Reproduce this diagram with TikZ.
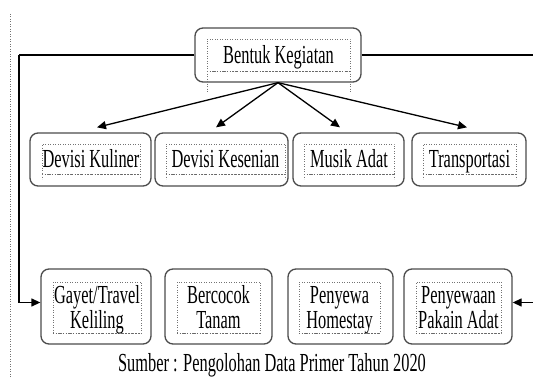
\documentclass[tikz,border=0pt]{standalone}
\usepackage{fontspec}
\newfontfamily\diagfont[FakeStretch=0.63]{Liberation Serif}
\usetikzlibrary{calc}
\usetikzlibrary{arrows.meta}
\newcommand{\diagtextsize}{\fontsize{26}{25}\selectfont}
\tikzstyle{outerbox}=[draw=black!70,line width=1.3pt,rounded corners=8pt,inner sep=0pt]
\tikzstyle{innerbox}=[draw=black!55,dotted,line width=0.5pt,inner sep=0pt,font=\diagfont\diagtextsize,text height=17pt,text depth=0pt]
\tikzstyle{twoline}=[text height=42pt,text depth=0pt,align=center]
\tikzstyle{dotbase}=[draw=black!60,dotted,line width=1.3pt]
\tikzstyle{dotside}=[draw=black!55,dotted,line width=0.5pt]
\tikzstyle{plainedge}=[draw=black,line width=1.3pt]
\tikzstyle{flowedge}=[draw=black,line width=1.3pt,-{Triangle[length=9pt,width=8pt]}]

\begin{document}
\begin{tikzpicture}[x=1pt,y=-1pt]
  \useasboundingbox (0,0) rectangle (533,379);
  % page margin mark
  \draw[dotside] (10,14) -- (10,379);
  % Top box.
  \node[outerbox,minimum width=166pt,minimum height=54pt] (top) at (278,55) {};
  \node[innerbox,minimum width=143pt,minimum height=32pt] (topi) at (278.5,55) {Bentuk Kegiatan};
  % middle row
  \node[outerbox,minimum width=121pt,minimum height=53pt] (m1) at (90.5,159.5) {};
  \node[outerbox,minimum width=133pt,minimum height=53pt] (m2) at (221.5,159.5) {};
  \node[outerbox,minimum width=111pt,minimum height=53pt] (m3) at (348.5,159.5) {};
  \node[outerbox,minimum width=114pt,minimum height=53pt] (m4) at (469,159.5) {};
  \node[innerbox,minimum width=98pt,minimum height=30pt] (m1i) at (91,159) {Devisi Kuliner};
  \node[innerbox,minimum width=119pt,minimum height=30pt] (m2i) at (225.5,159) {Devisi Kesenian};
  \node[innerbox,minimum width=90pt,minimum height=30pt] (m3i) at (349,159) {Musik Adat};
  \node[innerbox,minimum width=93pt,minimum height=30pt] (m4i) at (469.5,159) {Transportasi};
  % bottom row
  \node[outerbox,minimum width=110pt,minimum height=75pt] (s1) at (96,306.5) {};
  \node[outerbox,minimum width=107pt,minimum height=75pt] (s2) at (218.5,306.5) {};
  \node[outerbox,minimum width=105pt,minimum height=75pt] (s3) at (340.5,306.5) {};
  \node[outerbox,minimum width=108pt,minimum height=75pt] (s4) at (458,306.5) {};
  \node[innerbox,twoline,minimum width=88pt,minimum height=51pt] (s1i) at (97,307.5) {Gayet/Travel\\Keliling};
  \node[innerbox,twoline,minimum width=83pt,minimum height=51pt] (s2i) at (218.5,307.5) {Bercocok\\Tanam};
  \node[innerbox,twoline,minimum width=81pt,minimum height=51pt] (s3i) at (339.5,307.5) {Penyewa\\Homestay};
  \node[innerbox,twoline,minimum width=85pt,minimum height=51pt] (s4i) at (458.5,307.5) {Penyewaan\\Pakain Adat};
  \foreach \n in {topi,m1i,m2i,m3i,m4i,s1i,s2i,s3i,s4i}
  {
    \path[dotbase] (\n.south west) -- (\n.south east);
  }
  \path[dotside] (topi.south west) -- ++(0,21);
  \path[dotside] (topi.south east) -- ++(0,21);
  \foreach \n in {m1i,m2i,m3i,m4i}
  {
    \path[dotside] (\n.south west) -- ++(0,5);
    \path[dotside] (\n.south east) -- ++(0,5);
  }
  % connectors
  \path[flowedge] (top.south) -- ($(m1.north)+(6.5,-5)$);
  \path[flowedge] (top.south) -- ($(m2.north)+(-5.5,-5)$);
  \path[flowedge] (top.south) -- ($(m3.north)+(-8.5,-5)$);
  \path[flowedge] (top.south) -- ($(m4.north)+(-2,-5)$);
  \coordinate (lft) at (19,55);
  \coordinate (rgt) at (533,55);
  \coordinate (rgtb) at (533,302.5);
  \path[plainedge] (top.west) -- (lft);
  \path[flowedge] (lft) |- ($(s1.west)+(0,-4)$);
  \path[plainedge] (top.east) -- (rgt);
  \path[flowedge] (rgtb) -- (s4.east |- rgtb);
  %
  \node[font=\diagfont\diagtextsize,anchor=base] (src) at (272,371) {Sumber : Pengolohan Data Primer Tahun 2020};
\end{tikzpicture}
\end{document}
